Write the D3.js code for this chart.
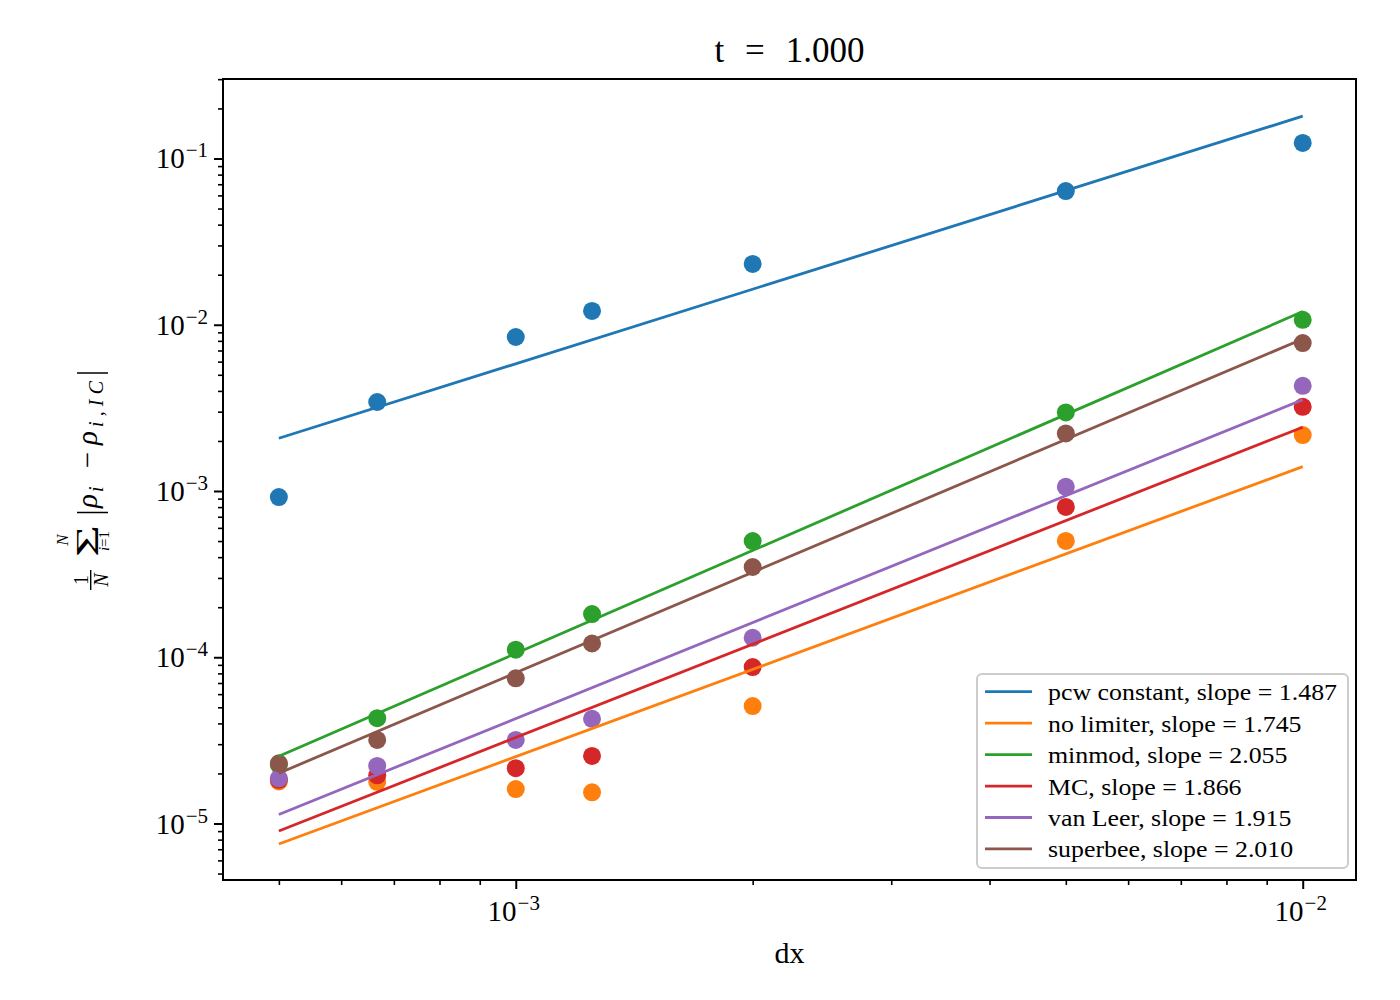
<!DOCTYPE html>
<html>
<head>
<meta charset="utf-8">
<script src="https://cdn.jsdelivr.net/npm/d3@7"></script>
<style>
  body { margin: 0; background: #fff; }
  svg { display: block; }
  text { font-family: "Liberation Serif", "Times New Roman", serif; fill: #000; }
</style>
</head>
<body>
<svg id="chart" width="1400" height="1000"></svg>
<script>
// ---------------- data ----------------
const dx = [0.0005, 0.0006667, 0.001, 0.00125, 0.002, 0.005, 0.01];

const seriesNames = ["pcw constant", "no limiter", "minmod", "MC", "van Leer", "superbee"];
const legendSlopes = ["1.487", "1.745", "2.055", "1.866", "1.915", "2.010"];
const seriesColors = ["#1f77b4", "#ff7f0e", "#2ca02c", "#d62728", "#9467bd", "#8c564b"];

const pcwConstant = [9.2e-4, 3.43e-3, 8.44e-3, 1.21e-2, 2.32e-2, 6.37e-2, 1.24e-1];
const noLimiter   = [1.79e-5, 1.78e-5, 1.61e-5, 1.54e-5, 5.09e-5, 5.01e-4, 2.17e-3];
const minmod      = [2.25e-5, 4.30e-5, 1.11e-4, 1.82e-4, 5.0e-4, 2.97e-3, 1.07e-2];
const mc          = [1.83e-5, 1.95e-5, 2.15e-5, 2.55e-5, 8.73e-5, 8.02e-4, 3.21e-3];
const vanLeer     = [1.87e-5, 2.22e-5, 3.18e-5, 4.26e-5, 1.31e-4, 1.06e-3, 4.29e-3];
const superbee    = [2.30e-5, 3.18e-5, 7.47e-5, 1.21e-4, 3.49e-4, 2.22e-3, 7.76e-3];

const seriesValues = [pcwConstant, noLimiter, minmod, mc, vanLeer, superbee];

const xMajorTicks = [1e-3, 1e-2];
const xTickExponents = ["−3", "−2"];
const yMajorTicks = [1e-5, 1e-4, 1e-3, 1e-2, 1e-1];
const yTickExponents = ["−5", "−4", "−3", "−2", "−1"];

const titleText = "t = 1.000";
const xLabelText = "dx";

// ---------------- layout ----------------
const svg = d3.select("#chart");
svg.append("rect").attr("width", 1400).attr("height", 1000).attr("fill", "#fff");

const L = 223, R = 1356, T = 79, B = 880;
const x = d3.scaleLog().domain([4.246e-4, 0.011687]).range([L, R]);
const y = d3.scaleLog().domain([4.573e-6, 0.3007]).range([B, T]);

// least squares fit in log-log space
function fit(xs, ys) {
  const lx = xs.map(Math.log10), ly = ys.map(Math.log10);
  const mx = d3.mean(lx), my = d3.mean(ly);
  let sxy = 0, sxx = 0;
  for (let i = 0; i < lx.length; i++) { sxy += (lx[i]-mx)*(ly[i]-my); sxx += (lx[i]-mx)**2; }
  const m = sxy / sxx, b = my - m * mx;
  return v => Math.pow(10, b + m * Math.log10(v));
}

// scatter points (below lines)
const pts = svg.append("g");
seriesValues.forEach((vals, s) => {
  pts.selectAll(null).data(vals).enter().append("circle")
    .attr("cx", (d, i) => x(dx[i]))
    .attr("cy", d => y(d))
    .attr("r", 9)
    .attr("fill", seriesColors[s]);
});

// fit lines
const lines = svg.append("g");
const xEnds = d3.extent(dx);
seriesValues.forEach((vals, s) => {
  const f = fit(dx, vals);
  lines.append("path")
    .attr("d", d3.line().x(d => x(d)).y(d => y(f(d)))(xEnds))
    .attr("stroke", seriesColors[s])
    .attr("stroke-width", 2.8)
    .attr("fill", "none");
});

// axes ticks
const inRangeX = v => v >= x.domain()[0] && v <= x.domain()[1];
const inRangeY = v => v >= y.domain()[0] && v <= y.domain()[1];
const xMinor = x.ticks(20).filter(v => inRangeX(v) && !xMajorTicks.some(m => Math.abs(m - v) / m < 1e-6));
const yMinor = y.ticks(40).filter(v => inRangeY(v) && !yMajorTicks.some(m => Math.abs(m - v) / m < 1e-6));

function styleAxis(g, w) {
  g.select(".domain").remove();
  g.selectAll("line").attr("stroke", "#000").attr("stroke-width", w);
  g.selectAll("text").remove();
}
svg.append("g").attr("transform", `translate(0,${B})`)
  .call(d3.axisBottom(x).tickValues(xMinor).tickSize(5).tickFormat(() => ""))
  .call(g => styleAxis(g, 1.6));
svg.append("g").attr("transform", `translate(0,${B})`)
  .call(d3.axisBottom(x).tickValues(xMajorTicks).tickSize(9).tickFormat(() => ""))
  .call(g => styleAxis(g, 2));
svg.append("g").attr("transform", `translate(${L},0)`)
  .call(d3.axisLeft(y).tickValues(yMinor).tickSize(5).tickFormat(() => ""))
  .call(g => styleAxis(g, 1.6));
svg.append("g").attr("transform", `translate(${L},0)`)
  .call(d3.axisLeft(y).tickValues(yMajorTicks).tickSize(9).tickFormat(() => ""))
  .call(g => styleAxis(g, 2));

// spines
svg.append("rect").attr("x", L).attr("y", T).attr("width", R - L).attr("height", B - T)
  .attr("fill", "none").attr("stroke", "#000").attr("stroke-width", 2);

// tick labels
function tickLabel(t, exp) {
  t.append("tspan").text("10");
  t.append("tspan").attr("dx", 1).attr("dy", -11).attr("font-size", 21).text(exp);
}
xMajorTicks.forEach((v, i) => {
  const t = svg.append("text").attr("x", x(v) - 2).attr("y", 920.5)
    .attr("text-anchor", "middle").attr("font-size", 29);
  tickLabel(t, xTickExponents[i]);
});
yMajorTicks.forEach((v, i) => {
  const t = svg.append("text").attr("x", 208).attr("y", y(v) + 10)
    .attr("text-anchor", "end").attr("font-size", 29);
  tickLabel(t, yTickExponents[i]);
});

// title
const title = svg.append("text").attr("x", (L + R) / 2).attr("y", 62)
  .attr("text-anchor", "middle").attr("font-size", 35).text(titleText);
{
  const w = title.node().getComputedTextLength();
  const extra = (150 - w) / 2;
  if (extra > 0) title.attr("word-spacing", extra);
}

// x label
svg.append("text").attr("x", (L + R) / 2).attr("y", 963)
  .attr("text-anchor", "middle").attr("font-size", 30).text(xLabelText);

// y label (math expression)
const yl = svg.append("g").attr("transform", "translate(92,480) rotate(-90)");
// fraction 1/N
yl.append("text").attr("x", -100).attr("y", -4.5).attr("text-anchor", "middle").attr("font-size", 20).text("1");
yl.append("line").attr("x1", -110).attr("x2", -90).attr("y1", -1.3).attr("y2", -1.3)
  .attr("stroke", "#000").attr("stroke-width", 1.4);
yl.append("text").attr("x", -100).attr("y", 16).attr("text-anchor", "middle").attr("font-size", 20)
  .attr("font-style", "italic").text("N");
// sum with limits
yl.append("text").attr("x", -77).attr("y", 6).attr("font-size", 32)
  .attr("textLength", 32).attr("lengthAdjust", "spacingAndGlyphs").text("Σ");
yl.append("text").attr("x", -60).attr("y", -24).attr("text-anchor", "middle").attr("font-size", 17)
  .attr("font-style", "italic").text("N");
const lim = yl.append("text").attr("x", -61).attr("y", 17).attr("text-anchor", "middle").attr("font-size", 15);
lim.append("tspan").attr("font-style", "italic").text("i");
lim.append("tspan").text("=1");
// absolute value bars
[-32.5, 107].forEach(px => {
  yl.append("line").attr("x1", px).attr("x2", px).attr("y1", -15).attr("y2", 16)
    .attr("stroke", "#000").attr("stroke-width", 1.5);
});
yl.append("text").attr("x", -28).attr("y", 5).attr("font-size", 29).attr("font-style", "italic").text("ρ");
yl.append("text").attr("x", -12).attr("y", 11).attr("font-size", 20).attr("font-style", "italic").text("i");
yl.append("text").attr("x", 20).attr("y", 5).attr("text-anchor", "middle").attr("font-size", 29).text("−");
yl.append("text").attr("x", 35).attr("y", 5).attr("font-size", 29).attr("font-style", "italic").text("ρ");
yl.append("text").attr("x", 53).attr("y", 11).attr("font-size", 20).attr("font-style", "italic")
  .attr("textLength", 46).attr("lengthAdjust", "spacing").text("i,IC");

// legend
const lg = svg.append("g");
lg.append("rect").attr("x", 977).attr("y", 674).attr("width", 371).attr("height", 194)
  .attr("rx", 5).attr("fill", "#fff").attr("fill-opacity", 0.8)
  .attr("stroke", "#cccccc").attr("stroke-width", 2);
const rowH = 31.45, row0 = 691.7;
const legendTexts = [];
seriesNames.forEach((name, i) => {
  const ry = row0 + i * rowH;
  lg.append("line").attr("x1", 985).attr("x2", 1032).attr("y1", ry).attr("y2", ry)
    .attr("stroke", seriesColors[i]).attr("stroke-width", 2.8);
  legendTexts.push(lg.append("text").attr("x", 1048).attr("y", ry + 8.5).attr("font-size", 23.5)
    .text(`${name}, slope = ${legendSlopes[i]}`));
});
{
  const w0 = legendTexts[0].node().getComputedTextLength();
  const k = 289 / w0;
  legendTexts.forEach(t => {
    const w = t.node().getComputedTextLength();
    t.attr("textLength", w * k).attr("lengthAdjust", "spacingAndGlyphs");
  });
}
</script>
</body>
</html>
